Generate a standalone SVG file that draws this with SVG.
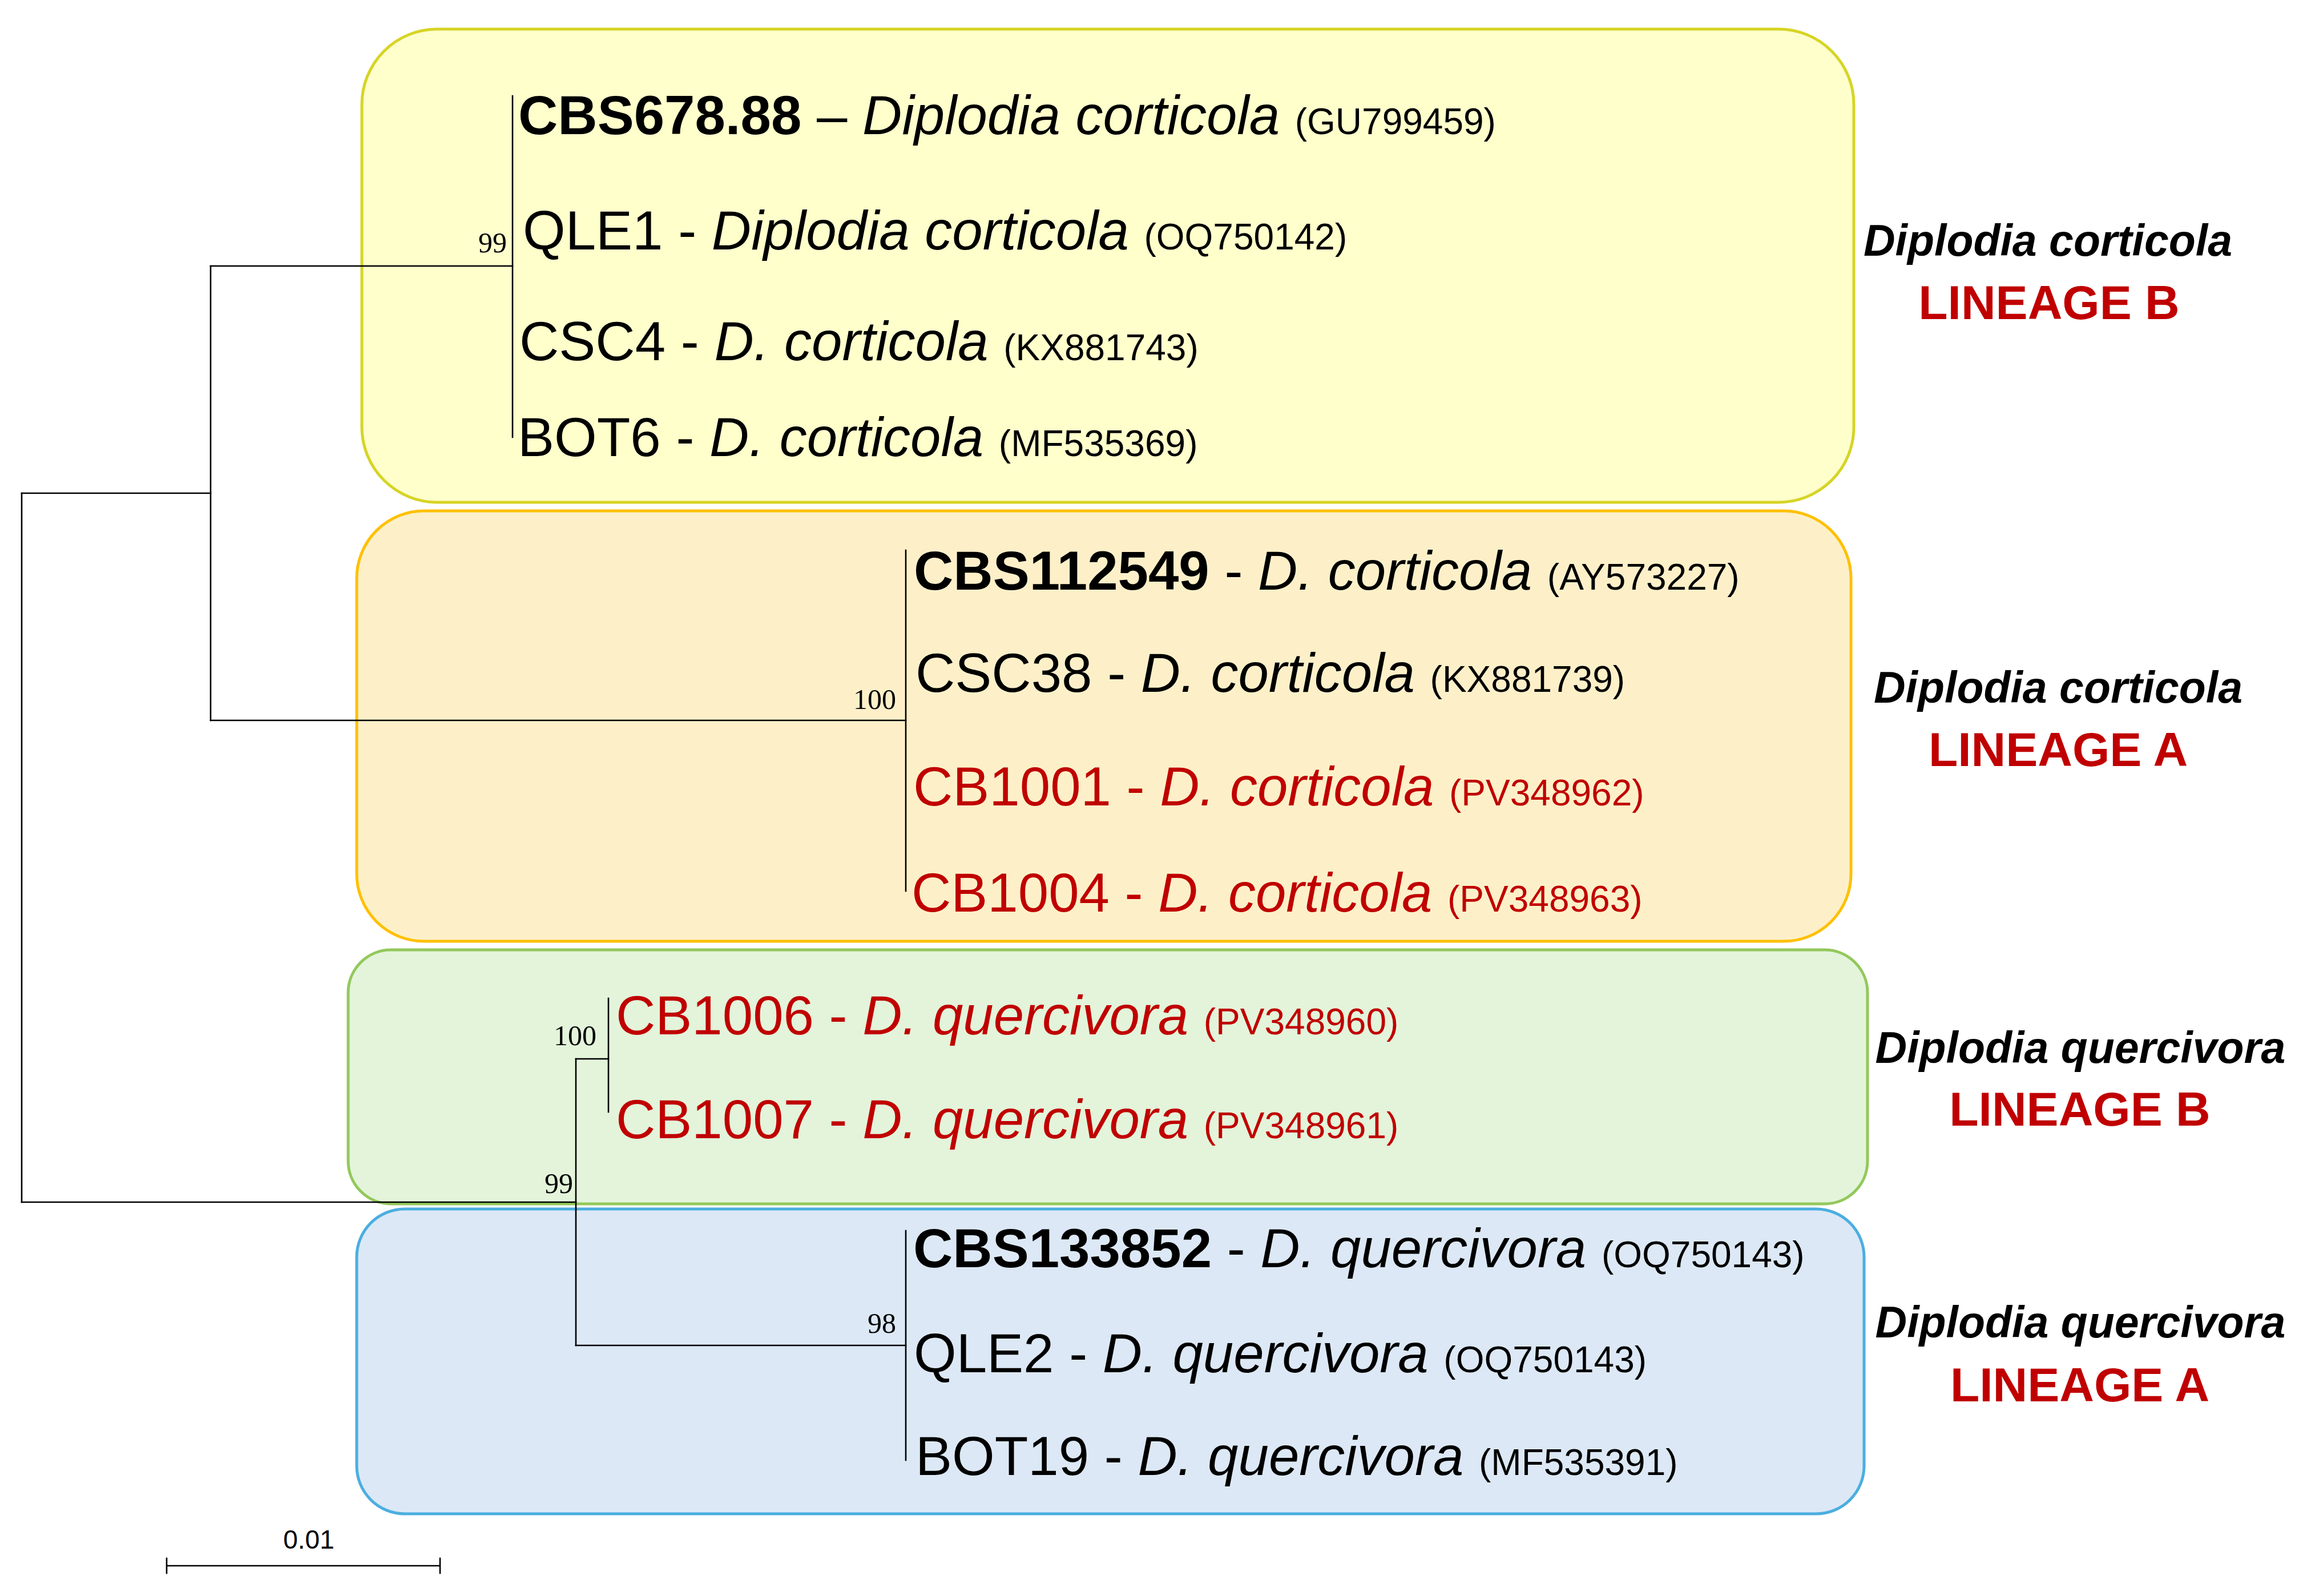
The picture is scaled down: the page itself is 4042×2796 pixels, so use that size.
<svg xmlns="http://www.w3.org/2000/svg" width="4042" height="2796" viewBox="0 0 4042 2796">
<style>
.leaf{font-family:"Liberation Sans",Arial,sans-serif;font-size:96px;fill:#000}
.red{fill:#C00000}
.b{font-weight:bold}
.i{font-style:italic}
.acc{font-size:64px}
.boot{font-family:"Liberation Serif","Times New Roman",serif;font-size:50px;text-anchor:end;fill:#000}
.clade{font-family:"Liberation Sans",Arial,sans-serif;font-weight:bold;font-style:italic;font-size:77px;text-anchor:middle;fill:#000}
.lin{font-family:"Liberation Sans",Arial,sans-serif;font-weight:bold;font-size:84px;text-anchor:middle;fill:#C00000}
.br{stroke:#000;stroke-width:2.6;fill:none;stroke-linecap:square}
.box{stroke-width:5}
</style>
<rect width="4042" height="2796" fill="#fff"/>

<g id="clade-corticola-B">
<rect class="box" x="634" y="51" width="2614" height="829" rx="132" ry="132" fill="#FFFFCC" stroke="#D6D425"/>
</g>
<g id="clade-corticola-A">
<rect class="box" x="625" y="895" width="2618" height="754" rx="118" ry="118" fill="#FDF0C9" stroke="#FFC000"/>
</g>
<g id="clade-quercivora-B">
<rect class="box" x="610" y="1664" width="2662" height="445" rx="75" ry="75" fill="#E3F4DA" stroke="#93C85B"/>
</g>
<g id="clade-quercivora-A">
<rect class="box" x="625" y="2118" width="2641" height="534" rx="84" ry="84" fill="#DCE8F5" stroke="#4BAEE0"/>
</g>

<g id="connectors">
<path class="br" d="M38,864 V2106"/>
<path class="br" d="M38,864 H369"/>
<path class="br" d="M369,466 V1262"/>
<path class="br" d="M369,466 H898"/>
<path class="br" d="M898,168 V766"/>
<path class="br" d="M369,1262 H1587"/>
<path class="br" d="M1587,964 V1561"/>
<path class="br" d="M38,2106 H1009"/>
<path class="br" d="M1009,1855 V2357"/>
<path class="br" d="M1009,1855 H1066"/>
<path class="br" d="M1066,1749 V1948"/>
<path class="br" d="M1009,2357 H1587"/>
<path class="br" d="M1587,2156 V2558"/>
</g>

<g id="bootstrap">
<text class="boot" x="888" y="442">99</text>
<text class="boot" x="1570" y="1242">100</text>
<text class="boot" x="1045" y="1831">100</text>
<text class="boot" x="1004" y="2090">99</text>
<text class="boot" x="1570" y="2335">98</text>
</g>

<g id="leaf-CBS678.88"><text class="leaf" x="908" y="235"><tspan class="b">CBS678.88</tspan> – <tspan class="i">Diplodia corticola</tspan> <tspan class="acc">(GU799459)</tspan></text></g>
<g id="leaf-QLE1"><text class="leaf" x="916" y="437">QLE1 - <tspan class="i">Diplodia corticola</tspan> <tspan class="acc">(OQ750142)</tspan></text></g>
<g id="leaf-CSC4"><text class="leaf" x="910" y="631">CSC4 - <tspan class="i">D. corticola</tspan> <tspan class="acc">(KX881743)</tspan></text></g>
<g id="leaf-BOT6"><text class="leaf" x="907" y="799">BOT6 - <tspan class="i">D. corticola</tspan> <tspan class="acc">(MF535369)</tspan></text></g>

<g id="leaf-CBS112549"><text class="leaf" x="1601" y="1033"><tspan class="b">CBS112549</tspan> - <tspan class="i">D. corticola</tspan> <tspan class="acc">(AY573227)</tspan></text></g>
<g id="leaf-CSC38"><text class="leaf" x="1604" y="1212">CSC38 - <tspan class="i">D. corticola</tspan> <tspan class="acc">(KX881739)</tspan></text></g>
<g id="leaf-CB1001"><text class="leaf red" x="1600" y="1411">CB1001 - <tspan class="i">D. corticola</tspan> <tspan class="acc">(PV348962)</tspan></text></g>
<g id="leaf-CB1004"><text class="leaf red" x="1597" y="1597">CB1004 - <tspan class="i">D. corticola</tspan> <tspan class="acc">(PV348963)</tspan></text></g>

<g id="leaf-CB1006"><text class="leaf red" x="1079" y="1812">CB1006 - <tspan class="i">D. quercivora</tspan> <tspan class="acc">(PV348960)</tspan></text></g>
<g id="leaf-CB1007"><text class="leaf red" x="1079" y="1994">CB1007 - <tspan class="i">D. quercivora</tspan> <tspan class="acc">(PV348961)</tspan></text></g>

<g id="leaf-CBS133852"><text class="leaf" x="1600" y="2220"><tspan class="b">CBS133852</tspan> - <tspan class="i">D. quercivora</tspan> <tspan class="acc">(OQ750143)</tspan></text></g>
<g id="leaf-QLE2"><text class="leaf" x="1601" y="2404">QLE2 - <tspan class="i">D. quercivora</tspan> <tspan class="acc">(OQ750143)</tspan></text></g>
<g id="leaf-BOT19"><text class="leaf" x="1604" y="2584">BOT19 - <tspan class="i">D. quercivora</tspan> <tspan class="acc">(MF535391)</tspan></text></g>

<g id="label-corticola-B">
<text class="clade" x="3588" y="448">Diplodia corticola</text>
<text class="lin" x="3590" y="559">LINEAGE B</text>
</g>
<g id="label-corticola-A">
<text class="clade" x="3606" y="1231">Diplodia corticola</text>
<text class="lin" x="3606" y="1342">LINEAGE A</text>
</g>
<g id="label-quercivora-B">
<text class="clade" x="3645" y="1862">Diplodia quercivora</text>
<text class="lin" x="3644" y="1972">LINEAGE B</text>
</g>
<g id="label-quercivora-A">
<text class="clade" x="3645" y="2343">Diplodia quercivora</text>
<text class="lin" x="3644" y="2455">LINEAGE A</text>
</g>

<g id="scale-bar">
<path class="br" d="M292,2743 H771 M292,2730 V2756 M771,2730 V2756" stroke-width="3"/>
<text x="541" y="2713" font-family="Liberation Sans, Arial, sans-serif" font-size="46" text-anchor="middle">0.01</text>
</g>
</svg>
